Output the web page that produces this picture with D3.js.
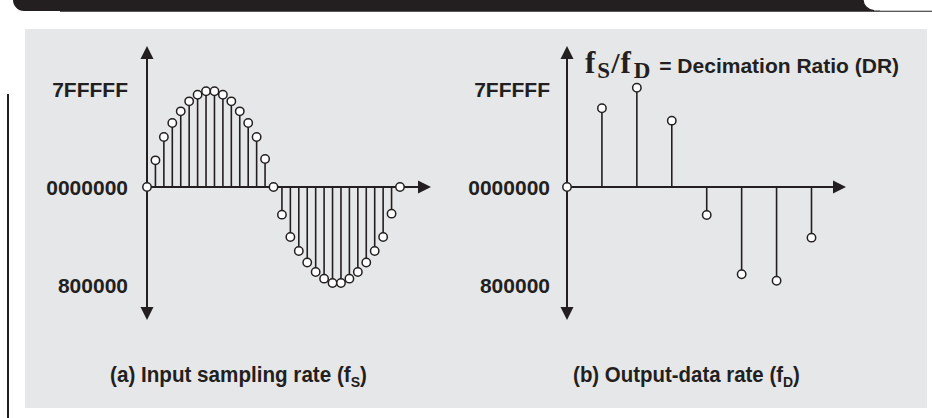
<!DOCTYPE html>
<html>
<head>
<meta charset="utf-8">
<script src="https://cdn.jsdelivr.net/npm/d3@7"></script>
<style>
  html, body { margin: 0; padding: 0; background: #ffffff; }
  svg { display: block; }
</style>
</head>
<body>
<svg id="chart" width="932" height="418"></svg>
<script>
// ---------------- data ----------------
const inputSamples = [0, 0.272, 0.51, 0.653, 0.772, 0.874, 0.942, 0.977, 0.977, 0.942, 0.874, 0.772, 0.653, 0.51, 0.286,
  0, -0.282, -0.51, -0.653, -0.771, -0.867, -0.935, -0.98, -0.98, -0.935, -0.867, -0.771, -0.653, -0.51, -0.272, 0];
const outputSamples = [0, 0.803, 1.013, 0.677, -0.286, -0.891, -0.956, -0.517];
const yTickValues = [1, 0, -1];
const yTickLabels = ["7FFFFF", "0000000", "800000"];
const captionA = { text: "(a) Input sampling rate (f", sub: "S", end: ")" };
const captionB = { text: "(b) Output-data rate (f", sub: "D", end: ")" };
const titleParts = { f1: "f", s1: "S", slash: "/", f2: "f", s2: "D", rest: " = Decimation Ratio (DR)" };

// ---------------- styles ----------------
const INK = "#231f20";
const PANEL = "#e6e7e8";
const SANS = "'Liberation Sans', Arial, Helvetica, sans-serif";
const SERIF = "'Liberation Serif', 'Times New Roman', serif";

const svg = d3.select("#chart");

// top decorative bar
svg.append("path")
  .attr("d", "M13,0 H880 V11 H24 A11,11 0 0 1 13,0 Z")
  .attr("fill", INK);
svg.append("line").attr("x1", 60).attr("x2", 932).attr("y1", 11.2).attr("y2", 11.2)
  .attr("stroke", INK).attr("stroke-width", 1.2);
svg.append("path")
  .attr("d", "M863,-1 H932 V10.5 H874 A11,11 0 0 1 863,-0.5 Z")
  .attr("fill", "#ffffff");
svg.append("path")
  .attr("d", "M863,-1 A11.5,11.5 0 0 0 874,10.6")
  .attr("fill", "none").attr("stroke", INK).attr("stroke-width", 1.2);

// left vertical rule
svg.append("line").attr("x1", 8).attr("x2", 8).attr("y1", 94).attr("y2", 418)
  .attr("stroke", INK).attr("stroke-width", 2);

// grey panel
svg.append("rect").attr("x", 25).attr("y", 29).attr("width", 902).attr("height", 379)
  .attr("fill", PANEL);

// shared y scale
const y = d3.scaleLinear().domain([-1, 1]).range([285, 89]);

function drawPanel(opts) {
  const g = svg.append("g");
  const x = opts.x;
  const x0 = x.range()[0];
  const zeroY = y(0);

  // y labels via d3 axis
  const axis = d3.axisLeft(y)
    .tickValues(yTickValues)
    .tickFormat((d, i) => yTickLabels[i])
    .tickSize(0)
    .tickPadding(opts.labelPad);
  const ag = g.append("g").attr("transform", `translate(${x0},0)`).call(axis);
  ag.select(".domain").remove();
  ag.selectAll("text")
    .attr("font-family", SANS).attr("font-weight", "bold").attr("font-size", 21)
    .attr("fill", INK).attr("dy", "0.36em");

  // vertical axis with arrows
  const yTop = opts.yTop, yBot = opts.yBot, ah = 13, aw = 6.5;
  g.append("line").attr("x1", x0).attr("x2", x0).attr("y1", yTop + ah - 1).attr("y2", yBot - ah + 1)
    .attr("stroke", INK).attr("stroke-width", 2);
  g.append("path").attr("d", `M${x0},${yTop} L${x0 + aw},${yTop + ah} L${x0 - aw},${yTop + ah} Z`).attr("fill", INK);
  g.append("path").attr("d", `M${x0},${yBot} L${x0 + aw},${yBot - ah} L${x0 - aw},${yBot - ah} Z`).attr("fill", INK);

  // horizontal axis with arrow
  const xTip = opts.xTip;
  g.append("line").attr("x1", x0).attr("x2", xTip - ah + 1).attr("y1", zeroY).attr("y2", zeroY)
    .attr("stroke", INK).attr("stroke-width", 2);
  g.append("path").attr("d", `M${xTip},${zeroY} L${xTip - ah},${zeroY - aw} L${xTip - ah},${zeroY + aw} Z`).attr("fill", INK);

  // stems
  const data = opts.data.map((v, i) => ({ i, v }));
  g.selectAll("line.stem").data(data.filter(d => d.v !== 0)).join("line")
    .attr("class", "stem")
    .attr("x1", d => x(d.i)).attr("x2", d => x(d.i))
    .attr("y1", zeroY).attr("y2", d => y(d.v))
    .attr("stroke", INK).attr("stroke-width", 1.6);

  // circles
  g.selectAll("circle.pt").data(data).join("circle")
    .attr("class", "pt")
    .attr("cx", d => x(d.i)).attr("cy", d => y(d.v))
    .attr("r", 4.2)
    .attr("fill", "#ffffff").attr("stroke", INK).attr("stroke-width", 1.5);
}

const xA = d3.scaleLinear().domain([0, inputSamples.length - 1]).range([147, 400]);
drawPanel({ x: xA, data: inputSamples, labelPad: 19, yTop: 46, yBot: 320, xTip: 431 });

const xB = d3.scaleLinear().domain([0, outputSamples.length - 1]).range([567, 811.5]);
drawPanel({ x: xB, data: outputSamples, labelPad: 17, yTop: 46, yBot: 320, xTip: 846 });

// title on right panel
const title = svg.append("text").attr("x", 585).attr("y", 72.5).attr("fill", INK);
const serifBold = s => s.attr("font-family", SERIF).attr("font-weight", "bold");
serifBold(title.append("tspan").text(titleParts.f1)).attr("font-size", 31);
serifBold(title.append("tspan").text(titleParts.s1)).attr("font-size", 23).attr("dy", 5).attr("dx", 2);
serifBold(title.append("tspan").text(titleParts.slash)).attr("font-size", 30).attr("dy", -5).attr("dx", 1);
serifBold(title.append("tspan").text(titleParts.f2)).attr("font-size", 31).attr("dx", 1);
serifBold(title.append("tspan").text(titleParts.s2)).attr("font-size", 23).attr("dy", 5).attr("dx", 3);
title.append("tspan").text(titleParts.rest).attr("font-family", SANS).attr("font-weight", "bold")
  .attr("font-size", 21).attr("dy", -5).attr("dx", 3);

// captions
function caption(c, cx, targetW) {
  const t = svg.append("text").attr("x", cx).attr("y", 382).attr("text-anchor", "middle")
    .attr("font-family", SANS).attr("font-weight", "bold").attr("font-size", 22).attr("fill", INK);
  t.append("tspan").text(c.text);
  t.append("tspan").text(c.sub).attr("font-size", 15).attr("dy", 5);
  t.append("tspan").text(c.end).attr("dy", -5);
  const w = t.node().getBBox().width;
  const s = targetW / w;
  t.attr("transform", `translate(${cx},0) scale(${s},1) translate(${-cx},0)`);
}
caption(captionA, 238.5, 257);
caption(captionB, 686.5, 227);
</script>
</body>
</html>
